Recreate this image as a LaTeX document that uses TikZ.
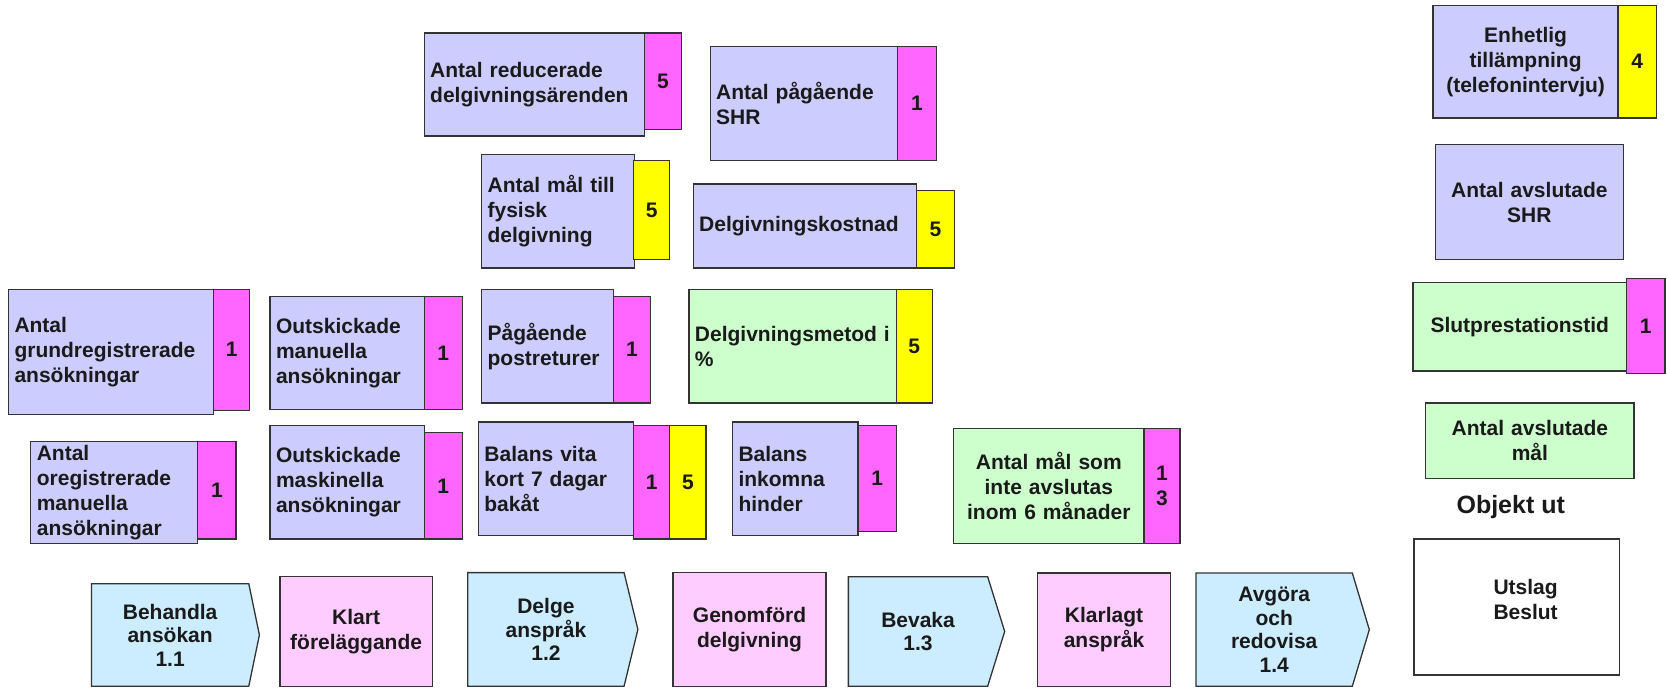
\documentclass[tikz,border=0pt]{standalone}
\usepackage{fontspec}
\setmainfont{Liberation Sans}
\definecolor{lav}{HTML}{CCCCFF}
\definecolor{mag}{HTML}{FF66FF}
\definecolor{yel}{HTML}{FFFF00}
\definecolor{grn}{HTML}{CCFFCC}
\definecolor{lblue}{HTML}{CCECFF}
\definecolor{lpink}{HTML}{FFCCFF}
\definecolor{edge}{HTML}{333333}
\definecolor{ink}{HTML}{1A1A1A}
\tikzset{
  box/.style={draw=edge, line width=1.3pt, rectangle, inner xsep=6pt, inner ysep=0pt,
    font=\fontsize{21}{25}\selectfont\bfseries, text=ink},
  lbox/.style={box, align=left},
  cbox/.style={box, align=center},
  chev/.style={draw=edge, line width=1.3pt, fill=lblue},
  chevtext/.style={align=center, inner sep=0pt, font=\fontsize{21}{23.5}\selectfont\bfseries, text=ink},
  heading/.style={inner sep=0pt, font=\fontsize{25}{28}\selectfont\bfseries, text=ink},
  plaintext/.style={align=center, inner sep=0pt, font=\fontsize{21}{25}\selectfont\bfseries, text=ink},
}
\newcommand\kbox[7]{%
  \pgfmathsetmacro\kbw{(#4-#2)*1.0632}%
  \pgfmathsetmacro\kbh{(#5-#3)*1.0632}%
  \pgfmathsetmacro\kbt{(#4-#2)*1.0632-12}%
  \node[#6, minimum width=\kbw pt, minimum height=\kbh pt, text width=\kbt pt]
    (#1) at ({(#2+#4)/2},{(#3+#5)/2}) {#7};}
\newcommand\kchev[7]{%
  \draw[chev] (#2,#3) -- (#4,#3) -- (#5,{(#3+#6)/2}) -- (#4,#6) -- (#2,#6) -- cycle;
  \node[chevtext] (#1) at ({(#2+#4)/2},{(#3+#6)/2}) {#7};}
\begin{document}
\begin{tikzpicture}[x=1.0632pt, y=-1.0632pt]
\useasboundingbox[fill=white] (0,0) rectangle (1568,647);

% top row
\kbox{a}{399}{31}{606}{128}{lbox,fill=lav}{Antal reducerade\\delgivningsärenden}
\kbox{at}{606}{31}{641}{122}{cbox,fill=mag}{5}
\kbox{b}{668}{44}{844}{151}{lbox,fill=lav}{Antal pågående\\SHR}
\kbox{bt}{844}{44}{881}{151}{cbox,fill=mag}{1}
\kbox{c}{1348}{5}{1522}{111}{cbox,fill=lav}{Enhetlig\\tillämpning\\(telefonintervju)}
\kbox{ct}{1522}{5}{1558}{111}{cbox,fill=yel}{4}

% second row
\kbox{d}{453}{145}{597}{252}{lbox,fill=lav}{Antal mål till\\fysisk\\delgivning}
\kbox{dt}{596}{151}{630}{244}{cbox,fill=yel}{5}
\kbox{e}{652}{173}{862}{252}{lbox,fill=lav}{Delgivningskostnad}
\kbox{et}{862}{179}{898}{252}{cbox,fill=yel}{5}
\kbox{f}{1350}{136}{1527}{244}{cbox,fill=lav}{Antal avslutade\\SHR}

% third row
\kbox{g}{8}{272}{201}{390}{lbox,fill=lav}{Antal\\grundregistrerade\\ansökningar}
\kbox{gt}{201}{272}{235}{386}{cbox,fill=mag}{1}
\kbox{h}{254}{279}{399}{385}{lbox,fill=lav}{Outskickade\\manuella\\ansökningar}
\kbox{ht}{399}{279}{435}{385}{cbox,fill=mag}{1}
\kbox{i}{453}{272}{577}{379}{lbox,fill=lav}{Pågående\\postreturer}
\kbox{it}{577}{279}{612}{379}{cbox,fill=mag}{1}
\kbox{j}{648}{272}{843}{379}{lbox,fill=grn}{Delgivningsmetod~i\\\%}
\kbox{jt}{843}{272}{877}{379}{cbox,fill=yel}{5}
\kbox{k}{1329}{266}{1530}{349}{cbox,fill=grn}{Slutprestationstid}
\kbox{kt}{1530}{262}{1566}{351}{cbox,fill=mag}{1}

% fourth row
\kbox{l}{29}{415}{186}{511}{lbox,fill=lav}{Antal\\oregistrerade\\manuella\\ansökningar}
\kbox{lt}{186}{415}{222}{507}{cbox,fill=mag}{1}
\kbox{m}{254}{400}{399}{507}{lbox,fill=lav}{Outskickade\\maskinella\\ansökningar}
\kbox{mt}{399}{407}{435}{507}{cbox,fill=mag}{1}
\kbox{n}{450}{397}{596}{504}{lbox,fill=lav}{Balans vita\\kort 7 dagar\\bakåt}
\kbox{nt}{596}{400}{630}{507}{cbox,fill=mag}{1}
\kbox{nu}{630}{400}{664}{507}{cbox,fill=yel}{5}
\kbox{o}{689}{397}{807}{504}{lbox,fill=lav}{Balans\\inkomna\\hinder}
\kbox{ot}{807}{400}{843}{500}{cbox,fill=mag}{1}
\kbox{p}{897}{403}{1076}{511}{cbox,fill=grn}{Antal mål som\\inte avslutas\\inom 6 månader}
\kbox{pt}{1076}{403}{1110}{511}{cbox,fill=mag}{1\\3}
\kbox{q}{1341}{379}{1537}{450}{cbox,fill=grn}{Antal avslutade\\mål}
\node[heading] (objut) at (1421,477) {Objekt ut};
\kbox{r}{1330}{507}{1523}{635}{cbox,fill=white}{}
\node[plaintext] (rtext) at (1435,564) {Utslag\\Beslut};

% bottom row
\kchev{s1}{86}{549}{234}{244}{645.5}{Behandla\\ansökan\\1.1}
\kbox{t1}{263.5}{542}{406.5}{645.5}{cbox,fill=lpink}{Klart\\föreläggande}
\kchev{s2}{440}{538.6}{587}{600}{645.5}{Delge\\anspråk\\1.2}
\kbox{t2}{633}{538.6}{777}{645.5}{cbox,fill=lpink}{Genomförd\\delgivning}
\kchev{s3}{798}{542.4}{929}{945}{645.5}{Bevaka\\1.3}
\kbox{t3}{976}{539}{1101}{645.5}{cbox,fill=lpink}{Klarlagt\\anspråk}
\kchev{s4}{1125}{539}{1272}{1288}{645.5}{Avgöra\\och\\redovisa\\1.4}
\end{tikzpicture}
\end{document}
